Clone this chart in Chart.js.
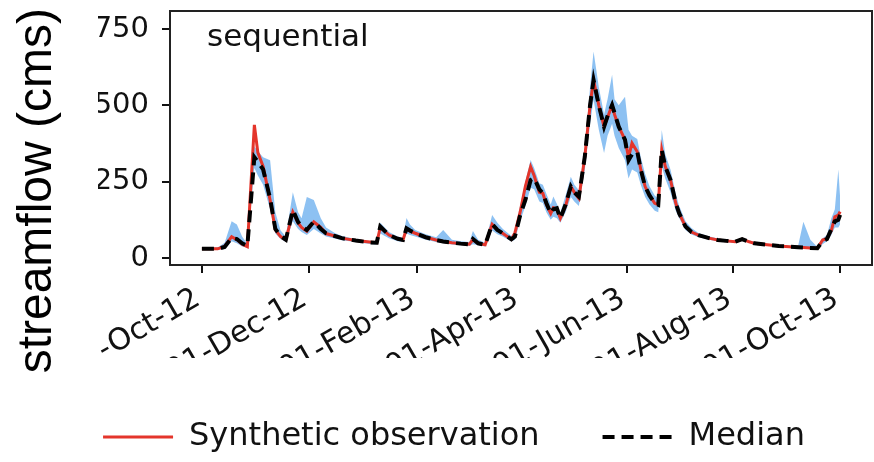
<!DOCTYPE html>
<html>
<head>
<meta charset="utf-8">
<script src="https://cdn.jsdelivr.net/npm/chart.js@4.4.1/dist/chart.umd.min.js"></script>
<style>
	html, body { margin: 0; padding: 0; background: #fff; }
	#wrap { width: 874px; height: 462px; }
</style>
</head>
<body>
<div id="wrap"><canvas id="flowChart" width="874" height="462"></canvas></div>
<script>
// x values are days since 01-Oct-2012
var days = [0, 9, 13, 17, 20, 23, 26, 30, 32, 35, 39, 42, 45, 48, 52, 55, 57, 60, 64, 68,
	71, 76, 80, 88, 96, 100, 102, 107, 112, 115, 117, 119, 122, 128, 134, 138, 143, 148, 153, 155,
	158, 162, 166, 169, 172, 177, 179, 182, 185, 188, 190, 193, 195, 197, 199.5, 201, 203, 205, 208, 211,
	213, 215.6, 219, 222, 224, 227, 230, 232, 234.6, 236, 238.4, 242, 244, 246, 249, 251, 253.5, 256, 259, 261,
	263, 265, 268, 271, 273, 276.6, 280, 284, 290, 295, 300, 305, 309, 313, 316, 322, 330, 336, 341, 344,
	348, 352, 355, 357.5, 360, 362, 364, 365];

// streamflow (cms)
var obsFlow = [30, 30, 38, 70, 60, 45, 37, 436, 345, 300, 190, 92, 70, 59, 150, 115, 100, 88, 118, 100,
	80, 72, 65, 57, 52, 50, 100, 75, 63, 59, 95, 88, 81, 68, 59, 54, 50, 47, 45, 60,
	48, 43, 110, 92, 81, 61, 82, 150, 235, 299, 270, 215, 212, 175, 146, 165, 160, 130, 170, 234,
	215, 195, 332, 500, 583, 500, 430, 460, 501, 470, 430, 387, 330, 376, 348, 290, 234, 205, 179, 174,
	354, 300, 256, 180, 146, 103, 85, 75, 65, 59, 56, 53, 62, 53, 48, 44, 39, 37, 35, 34,
	33, 32, 59, 64, 90, 135, 140, 152];

var medianFlow = [30, 30, 36, 66, 62, 48, 40, 330, 315, 290, 195, 95, 72, 60, 157, 118, 103, 92, 119, 95,
	81, 72, 65, 57, 51, 50, 103, 75, 63, 59, 97, 90, 81, 68, 59, 54, 50, 47, 45, 62,
	48, 43, 111, 92, 81, 61, 70, 140, 190, 255, 262, 225, 212, 180, 146, 160, 163, 130, 175, 234,
	215, 201, 332, 500, 583, 500, 430, 465, 501, 475, 430, 387, 320, 340, 348, 290, 234, 205, 179, 174,
	354, 300, 256, 180, 146, 103, 85, 75, 65, 59, 56, 53, 62, 53, 48, 44, 39, 37, 35, 34,
	33, 32, 55, 62, 95, 120, 125, 141];

var lowerFlow = [27, 27, 30, 55, 48, 38, 34, 295, 270, 240, 160, 80, 62, 52, 120, 95, 85, 75, 95, 80,
	70, 64, 58, 52, 46, 44, 80, 65, 55, 52, 80, 75, 70, 60, 52, 48, 44, 42, 40, 45,
	42, 38, 90, 78, 70, 54, 60, 120, 170, 230, 225, 185, 180, 150, 125, 135, 130, 115, 150, 200,
	185, 170, 290, 440, 518, 420, 344, 400, 440, 400, 360, 320, 260, 290, 280, 240, 200, 175, 155, 150,
	300, 260, 215, 155, 130, 92, 77, 68, 60, 55, 52, 50, 57, 50, 45, 41, 36, 34, 32, 31,
	30, 29, 45, 55, 75, 100, 100, 110];

var upperFlow = [33, 34, 50, 120, 110, 70, 46, 365, 350, 330, 320, 150, 90, 70, 215, 150, 130, 200, 190, 130,
	100, 82, 72, 62, 56, 55, 115, 85, 70, 66, 131, 110, 92, 78, 68, 92, 60, 55, 52, 88,
	60, 50, 141, 115, 96, 72, 88, 170, 250, 321, 295, 245, 240, 210, 175, 201, 178, 148, 205, 266,
	240, 222, 360, 560, 676, 560, 470, 520, 600, 520, 500, 528, 420, 400, 390, 330, 275, 235, 205, 195,
	419, 340, 290, 210, 170, 120, 98, 82, 71, 64, 60, 57, 66, 57, 52, 47, 42, 40, 40, 119,
	60, 36, 65, 75, 130, 160, 290, 200];

var tickDays = [0, 61, 123, 182, 243, 304, 365];
var tickLabels = ["01-Oct-12", "01-Dec-12", "01-Feb-13", "01-Apr-13", "01-Jun-13", "01-Aug-13", "01-Oct-13"];
var yTicks = [0, 250, 500, 750];

function toPoints(values) {
	return days.map(function (d, i) {
		return { x: d, y: values[i] };
	});
}

// frame round the axes, panel tag, and the crop of the first date label
var panelDecor = {
	id: "panelDecor",
	afterDraw: function (chart) {
		var ctx = chart.ctx;
		var area = chart.chartArea;
		ctx.save();
		ctx.strokeStyle = "#222";
		ctx.lineWidth = 2;
		ctx.strokeRect(area.left, area.top, area.right - area.left, area.bottom - area.top);

		ctx.fillStyle = "#111";
		ctx.font = "31px 'DejaVu Sans'";
		ctx.textBaseline = "alphabetic";
		ctx.fillText("sequential", area.left + 37, area.top + 35);

		ctx.fillStyle = "#fff";
		ctx.fillRect(54, area.bottom + 15, 41, 130);
		ctx.restore();
	},
};

Chart.defaults.font.family = "'DejaVu Sans'";
Chart.defaults.color = "#111";

var tickGrid = {
	drawOnChartArea: false,
	drawTicks: true,
	tickLength: 8,
	color: "#111",
	lineWidth: 2,
};

var canvas = document.getElementById("flowChart");
var ctx = canvas.getContext("2d");

var chart = new Chart(ctx, {
	type: "line",
	data: {
		datasets: [
			{
				label: "Synthetic observation",
				data: toPoints(obsFlow),
				borderColor: "#e4352b",
				borderWidth: 3,
				fill: false,
				order: 1,
			},
			{
				label: "Median",
				data: toPoints(medianFlow),
				borderColor: "#000",
				borderWidth: 4,
				borderDash: [12, 7],
				fill: false,
				order: 0,
			},
			{
				label: "upper",
				data: toPoints(upperFlow),
				borderColor: "transparent",
				borderWidth: 0,
				backgroundColor: "rgba(80,160,235,0.65)",
				fill: "+1",
				order: 2,
			},
			{
				label: "lower",
				data: toPoints(lowerFlow),
				borderColor: "transparent",
				borderWidth: 0,
				fill: false,
				order: 3,
			},
		],
	},
	options: {
		responsive: false,
		animation: false,
		devicePixelRatio: 1,
		elements: {
			point: { radius: 0 },
			line: { tension: 0 },
		},
		layout: {
			padding: { left: 36, right: 2, top: 8, bottom: 0 },
		},
		scales: {
			x: {
				type: "linear",
				min: -18.25,
				max: 383.25,
				afterBuildTicks: function (scale) {
					scale.ticks = tickDays.map(function (d) { return { value: d }; });
				},
				afterFit: function (scale) {
					scale.height = 93;
					scale.paddingLeft = 0;
					scale.paddingRight = 0;
				},
				border: { display: false },
				grid: tickGrid,
				ticks: {
					autoSkip: false,
					minRotation: 30,
					maxRotation: 30,
					padding: 8,
					labelOffset: -4,
					font: { size: 30 },
					callback: function (value) {
						return tickLabels[tickDays.indexOf(value)];
					},
				},
			},
			y: {
				min: -23,
				max: 809,
				afterBuildTicks: function (scale) {
					scale.ticks = yTicks.map(function (v) { return { value: v }; });
				},
				afterFit: function (scale) {
					scale.width = 72;
					scale.paddingTop = 11;
					scale.paddingBottom = 0;
				},
				border: { display: false },
				grid: tickGrid,
				ticks: {
					padding: 13,
					font: { size: 29 },
					callback: function (value) {
						return String(value);
					},
				},
			},
		},
		plugins: {
			tooltip: { enabled: false },
			title: {
				display: true,
				text: "streamflow (cms)",
				position: "left",
				align: "end",
				color: "#000",
				font: { family: "'Liberation Sans'", size: 48, weight: "normal", lineHeight: 1 },
				padding: { top: -22, bottom: 36 },
			},
			legend: {
				position: "bottom",
				maxHeight: 104,
				labels: {
					usePointStyle: true,
					pointStyle: "line",
					pointStyleWidth: 70,
					padding: 63,
					color: "#111",
					font: { size: 32 },
					generateLabels: function (chart) {
						var items = Chart.defaults.plugins.legend.labels.generateLabels(chart);
						items.forEach(function (item) {
							var ds = chart.data.datasets[item.datasetIndex];
							item.lineDash = ds.borderDash || [];
							item.lineWidth = ds.borderWidth;
							item.strokeStyle = ds.borderColor;
						});
						return items;
					},
					filter: function (item) {
						return item.datasetIndex < 2;
					},
					sort: function (a, b) {
						return a.datasetIndex - b.datasetIndex;
					},
				},
			},
		},
	},
	plugins: [panelDecor],
});
</script>
</body>
</html>
